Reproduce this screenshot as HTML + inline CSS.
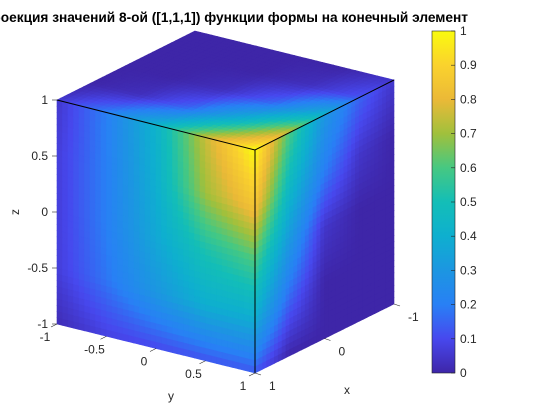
<!DOCTYPE html>
<html><head><meta charset="utf-8"><style>
html,body{margin:0;padding:0;background:#fff;overflow:hidden;}
svg{display:block;font-family:"Liberation Sans",sans-serif;}
</style></head><body>
<svg id="chart" width="560" height="420" viewBox="0 0 560 420">
<defs><linearGradient id="cbgrad" x1="0" y1="1" x2="0" y2="0"></linearGradient></defs>
<text x="468" y="22" text-anchor="end" font-size="13.7" font-weight="bold" fill="#000">Проекция значений 8-ой ([1,1,1]) функции формы на конечный элемент</text>
<g id="faces"></g>
<g id="edges" stroke="#000" stroke-width="1" fill="none">
<polyline points="57,100 255,150 394,80"/>
<line x1="255" y1="150" x2="255" y2="373"/>
</g>
<g id="axes" font-size="12" fill="#262626"></g>
<rect x="432" y="31" width="23" height="342" fill="url(#cbgrad)" stroke="#262626" stroke-width="0.6"/>
<g id="cbticks" font-size="12" fill="#262626"></g>
</svg>
<script>
// parula colormap stops
const cmapPos=[0,0.1,0.2,0.3,0.4,0.5,0.6,0.7,0.8,0.9,1];
const cmapR=[62,71,40,28,14,19,70,160,235,250,249];
const cmapG=[38,72,128,150,175,190,200,192,185,210,251];
const cmapB=[168,238,245,225,207,183,130,60,55,45,14];
// face value grids (rows top->bottom, cols left->right)
const leftFace=[[0.05,0.2,0.42,0.75,1.0],[0.07,0.2,0.4,0.7,0.85],[0.07,0.2,0.37,0.52,0.6],[0.07,0.18,0.3,0.4,0.4],[0.02,0.08,0.1,0.12,0.13]];
const rightFace=[[1.0,0.6,0.3,0.15,0.05],[0.85,0.45,0.2,0.05,0.0],[0.6,0.3,0.05,0,0],[0.4,0.15,0,0,0],[0.13,0,0,0,0]];
const topFace=[[0,0,0,0,0.05],[0,0,0,0.03,0.12],[0,0,0.03,0.15,0.42],[0,0.03,0.15,0.42,0.75],[0.05,0.2,0.42,0.75,1.0]];
const zTicks=[1,0.5,0,-0.5,-1];
const yTicks=[-1,-0.5,0,0.5,1];
const xTicks=[1,0,-1];
const cbTicks=[0,0.1,0.2,0.3,0.4,0.5,0.6,0.7,0.8,0.9,1];

const NS="http://www.w3.org/2000/svg";
function color(v){v=Math.max(0,Math.min(1,v));let i=0;while(i<cmapPos.length-2&&v>cmapPos[i+1])i++;
const t=(v-cmapPos[i])/(cmapPos[i+1]-cmapPos[i]);
const c=k=>Math.round(k[i]+(k[i+1]-k[i])*t);return `rgb(${c(cmapR)},${c(cmapG)},${c(cmapB)})`;}
function gridVal(g,u,v){const n=g.length-1;const x=u*n,y=v*n;let i=Math.min(n-1,Math.floor(y)),j=Math.min(n-1,Math.floor(x));
const fy=y-i,fx=x-j;return g[i][j]*(1-fx)*(1-fy)+g[i][j+1]*fx*(1-fy)+g[i+1][j]*(1-fx)*fy+g[i+1][j+1]*fx*fy;}
function pt(c,u,v){return [c[0][0]*(1-u)*(1-v)+c[1][0]*u*(1-v)+c[2][0]*(1-u)*v+c[3][0]*u*v,
c[0][1]*(1-u)*(1-v)+c[1][1]*u*(1-v)+c[2][1]*(1-u)*v+c[3][1]*u*v];}
const facesG=document.getElementById('faces');
function drawFace(name,g,c){const N=36;const grp=document.createElementNS(NS,'g');


for(let a=0;a<N;a++)for(let b=0;b<N;b++){const u0=b/N,u1=(b+1)/N,v0=a/N,v1=(a+1)/N;
const p=[pt(c,u0,v0),pt(c,u1,v0),pt(c,u1,v1),pt(c,u0,v1)];
const poly=document.createElementNS(NS,'polygon');
poly.setAttribute('points',p.map(q=>q[0].toFixed(2)+','+q[1].toFixed(2)).join(' '));
const col=color(gridVal(g,(u0+u1)/2,(v0+v1)/2));
poly.setAttribute('fill',col);poly.setAttribute('stroke',col);poly.setAttribute('stroke-width','0.6');


grp.appendChild(poly);}
facesG.appendChild(grp);}
drawFace('left-face',leftFace,[[57,100],[255,150],[57,324],[255,373]]);
drawFace('right-face',rightFace,[[255,150],[394,80],[255,373],[394,304]]);
drawFace('top-face',topFace,[[195,31],[394,80],[57,100],[255,150]]);

const axes=document.getElementById('axes');
function txt(x,y,s,anchor,name){const t=document.createElementNS(NS,'text');t.setAttribute('x',x);t.setAttribute('y',y);
t.setAttribute('text-anchor',anchor);t.textContent=s;


axes.appendChild(t);return t;}
function tick(x1,y1,x2,y2){const l=document.createElementNS(NS,'line');l.setAttribute('x1',x1);l.setAttribute('y1',y1);l.setAttribute('x2',x2);l.setAttribute('y2',y2);l.setAttribute('stroke','#262626');l.setAttribute('stroke-width','0.6');


axes.appendChild(l);}
const zY=z=>100+(1-z)/2*224;
zTicks.forEach(z=>{tick(57,zY(z),52,zY(z));txt(48,zY(z)+4,String(z),'end','z-tick-label');});
const zl=txt(0,0,'z','middle','z-axis-title');zl.setAttribute('transform','translate(19,212) rotate(-90)');
const yP=y=>{const t=(y+1)/2;return [57+198*t,324+49*t];};
yTicks.forEach(y=>{const p=yP(y);tick(p[0],p[1],p[0]-6,p[1]+3);txt(p[0]-12,p[1]+17,String(y),'middle','y-tick-label');});
txt(171,400,'y','middle','y-axis-title');
const xP=x=>{const t=(1-x)/2;return [255+139*t,373-69*t];};
xTicks.forEach(x=>{const p=xP(x);tick(p[0],p[1],p[0]+6,p[1]+2);txt(p[0]+14,p[1]+17,String(x),'start','x-tick-label');});
txt(347,394,'x','middle','x-axis-title');

const grad=document.getElementById('cbgrad');
for(let i=0;i<=20;i++){const s=document.createElementNS(NS,'stop');s.setAttribute('offset',i/20);s.setAttribute('stop-color',color(i/20));grad.appendChild(s);}
const cbG=document.getElementById('cbticks');
cbTicks.forEach(v=>{const y=373-v*342;
const l=document.createElementNS(NS,'line');l.setAttribute('x1',451);l.setAttribute('x2',455);l.setAttribute('y1',y);l.setAttribute('y2',y);l.setAttribute('stroke','#262626');l.setAttribute('stroke-width','0.6');


cbG.appendChild(l);
const t=document.createElementNS(NS,'text');t.setAttribute('x',460);t.setAttribute('y',y+4);t.textContent=String(v);


cbG.appendChild(t);});
</script>
</body></html>
